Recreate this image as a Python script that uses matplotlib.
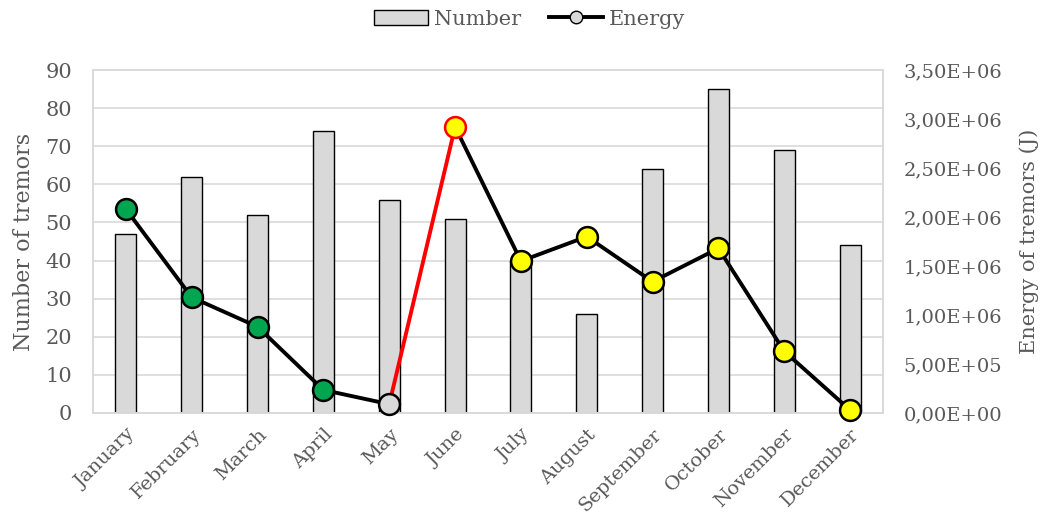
import matplotlib
matplotlib.use("Agg")
import matplotlib.pyplot as plt
from matplotlib.lines import Line2D
from matplotlib.patches import Patch
import numpy as np

months = ['January', 'February', 'March', 'April', 'May', 'June', 'July',
          'August', 'September', 'October', 'November', 'December']
number = [47, 62, 52, 74, 56, 51, 40, 26, 64, 85, 69, 44]
energy = [2.08e6, 1.18e6, 0.88e6, 0.235e6, 0.09e6, 2.92e6, 1.55e6,
          1.80e6, 1.34e6, 1.68e6, 0.63e6, 0.03e6]
marker_face = ['#00A550'] * 4 + ['#D9D9D9'] + ['#FFFF00'] * 7
marker_edge = ['black'] * 5 + ['#FF0000'] + ['black'] * 6

plt.rcParams['font.family'] = ['DejaVu Serif']
txt = '#595959'
grid = '#D9D9D9'

fig = plt.figure(figsize=(10.49, 5.21), dpi=100)
ax = fig.add_axes([93 / 1049, (521 - 413) / 521, 790 / 1049, 343 / 521])
ax2 = ax.twinx()

x = np.arange(len(months))
ax.bar(x, number, width=0.32, color='#D9D9D9', edgecolor='black', linewidth=1.0, zorder=2)
ax.set_xlim(-0.5, len(months) - 0.5)
ax.set_ylim(0, 90)
ax.set_yticks(range(0, 91, 10))
ax.grid(axis='y', color=grid, linewidth=1.2, zorder=0)
ax.set_axisbelow(True)
ax.set_xticks(x)
ax.set_xticklabels(months, rotation=45, ha='right', rotation_mode='anchor', fontsize=14, color=txt)
ax.tick_params(axis='y', length=0, labelsize=15, colors=txt, pad=15)
ax.tick_params(axis='x', length=0, colors=txt, pad=9)
ax.set_ylabel('Number of tremors', fontsize=16, color=txt)
ax.yaxis.set_label_coords(-0.074, 0.5)
for s in ax.spines.values():
    s.set_color(grid)
    s.set_linewidth(1.2)

# energy line, May -> June segment in red
ax2.plot(x[:5], energy[:5], color='black', linewidth=2.8, zorder=3)
ax2.plot(x[4:6], energy[4:6], color='#FF0000', linewidth=2.8, zorder=3)
ax2.plot(x[5:], energy[5:], color='black', linewidth=2.8, zorder=3)
for i in range(len(months)):
    ax2.plot(x[i], energy[i], 'o', markersize=15, markerfacecolor=marker_face[i],
             markeredgecolor=marker_edge[i], markeredgewidth=1.8, zorder=4, clip_on=False)
ax2.set_ylim(0, 3.5e6)
ax2.set_yticks(np.arange(0, 3.51e6, 0.5e6))
ax2.set_yticklabels([f"{v:.2E}".replace('.', ',') for v in np.arange(0, 3.51e6, 0.5e6)])
ax2.tick_params(axis='y', length=0, labelsize=14, colors=txt, pad=15)
ax2.set_ylabel('Energy of tremors (J)', fontsize=15, color=txt)
ax2.yaxis.set_label_coords(1.172, 0.5)
for s in ax2.spines.values():
    s.set_color(grid)
    s.set_linewidth(1.2)

handles = [Patch(facecolor='#D9D9D9', edgecolor='black', label='Number'),
           Line2D([0], [0], color='black', linewidth=2.8, marker='o', markersize=9,
                  markerfacecolor='#D9D9D9', markeredgecolor='black', label='Energy')]
fig.legend(handles=handles, loc='center', bbox_to_anchor=(0.505, 1 - 19 / 521), ncol=2,
           frameon=False, fontsize=15, labelcolor=txt, handlelength=2.6,
           handletextpad=0.3, columnspacing=1.3)

fig.savefig('out.png', dpi=100)
